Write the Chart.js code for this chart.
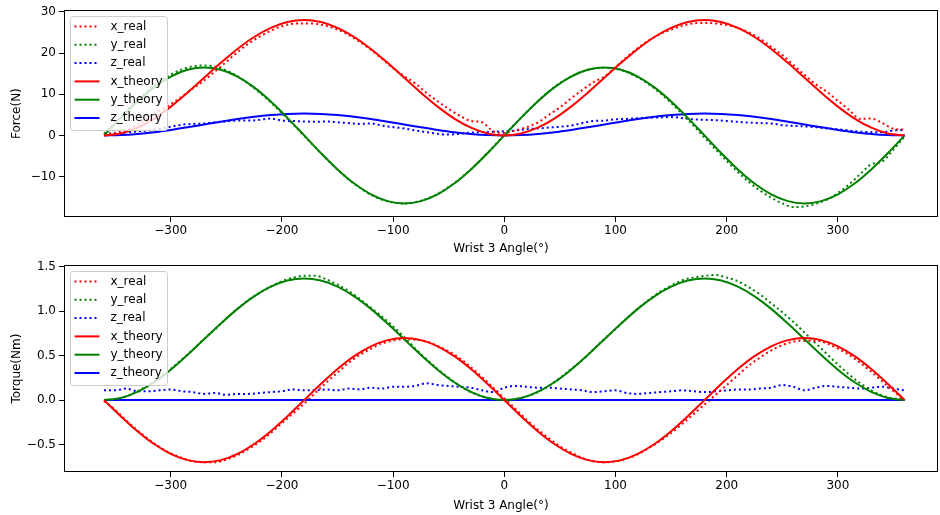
<!DOCTYPE html>
<html>
<head>
<meta charset="utf-8">
<script src="https://cdn.jsdelivr.net/npm/chart.js@4"></script>
<style>
  body { margin: 0; background: #fff; }
  #wrap { position: relative; width: 940px; height: 515px; }
  canvas { position: absolute; left: 0; }
  #force { top: 0; }
  #torque { top: 255px; }
</style>
</head>
<body>
<div id="wrap">
  <canvas id="force" width="940" height="258"></canvas>
  <canvas id="torque" width="940" height="260"></canvas>
</div>
<script>
// measured samples (every 10 deg)
const realAngles = [-360,-350,-340,-330,-320,-310,-300,-290,-280,-270,-260,-250,-240,-230,-220,-210,-200,-190,-180,-170,-160,-150,-140,-130,-120,-110,-100,-90,-80,-70,-60,-50,-40,-30,-20,-10,0,10,20,30,40,50,60,70,80,90,100,110,120,130,140,150,160,170,180,190,200,210,220,230,240,250,260,270,280,290,300,310,320,330,340,350,360];

const forceXReal = [0.3,0.6,1.3,2.6,4.3,6.0,7.6,9.4,11.4,13.3,15.6,17.9,20.2,22.3,24.0,25.4,26.5,27.1,27.2,27.1,26.6,25.7,24.4,22.7,20.8,18.6,16.3,14.4,12.6,10.3,8.3,6.4,4.8,3.5,3.2,1.0,0.6,1.2,2.0,3.1,5.0,6.8,9.0,11.0,12.9,14.3,16.6,19.0,21.2,23.1,24.6,25.7,26.6,27.2,27.3,27.2,26.8,26.1,25.0,23.5,21.5,19.5,17.1,14.7,12.4,10.6,8.4,6.2,4.0,4.1,3.0,1.6,1.4];
const forceYReal = [0.4,3.2,6.0,8.6,11.0,13.1,14.8,16.0,16.8,17.0,16.7,15.8,14.4,12.5,10.4,8.0,5.4,2.7,-0.1,-2.9,-5.7,-8.3,-10.7,-12.7,-14.4,-15.6,-16.3,-16.5,-16.2,-15.4,-14.2,-12.5,-10.5,-8.2,-5.6,-2.8,0.1,2.9,5.7,8.3,10.7,12.7,14.3,15.5,16.2,16.4,16.2,15.4,14.1,12.4,10.3,7.9,5.2,2.4,-0.5,-3.4,-6.2,-8.9,-11.3,-13.4,-15.1,-16.5,-17.4,-17.2,-16.6,-15.6,-14.0,-11.9,-9.4,-7.0,-6.3,-3.4,-0.3];
const forceZReal = [0.4,0.5,0.7,1.0,1.2,1.6,2.1,2.6,2.8,2.9,3.2,3.4,3.6,3.6,3.8,4.1,3.6,3.5,3.4,3.3,3.4,3.2,3.0,2.8,2.9,2.4,2.0,1.7,1.2,0.8,0.4,0.2,0.4,0.7,0.8,0.9,1.0,1.2,1.5,1.7,1.9,2.1,2.4,3.0,3.5,3.6,3.9,4.0,4.2,4.3,4.4,4.5,4.2,3.9,3.8,3.7,3.5,3.3,3.1,3.0,2.9,2.5,2.3,2.2,2.0,1.7,1.5,1.2,0.9,0.8,0.8,1.2,1.4];

const torqueXReal = [-0.01,-0.11,-0.23,-0.34,-0.44,-0.53,-0.60,-0.65,-0.69,-0.70,-0.70,-0.67,-0.62,-0.55,-0.47,-0.37,-0.26,-0.15,-0.04,0.08,0.20,0.31,0.42,0.51,0.58,0.64,0.67,0.69,0.68,0.66,0.61,0.55,0.47,0.37,0.26,0.14,0.02,-0.10,-0.22,-0.33,-0.43,-0.52,-0.59,-0.65,-0.69,-0.70,-0.69,-0.66,-0.61,-0.54,-0.46,-0.37,-0.27,-0.16,-0.05,0.06,0.17,0.28,0.39,0.48,0.56,0.62,0.66,0.67,0.67,0.64,0.58,0.51,0.42,0.32,0.21,0.10,0.00];
const torqueYReal = [0.00,0.01,0.04,0.10,0.17,0.25,0.35,0.46,0.57,0.69,0.80,0.92,1.03,1.13,1.21,1.28,1.34,1.38,1.40,1.40,1.36,1.30,1.23,1.14,1.04,0.94,0.83,0.71,0.58,0.46,0.35,0.25,0.16,0.09,0.04,0.01,0.00,0.01,0.04,0.09,0.16,0.25,0.35,0.45,0.57,0.69,0.80,0.92,1.03,1.13,1.22,1.29,1.35,1.38,1.40,1.41,1.38,1.34,1.27,1.19,1.09,0.99,0.88,0.76,0.64,0.52,0.40,0.29,0.19,0.11,0.05,0.02,0.01];
const torqueZReal = [0.11,0.11,0.13,0.10,0.10,0.11,0.12,0.10,0.09,0.07,0.08,0.06,0.07,0.07,0.08,0.09,0.10,0.12,0.11,0.11,0.12,0.11,0.13,0.12,0.14,0.13,0.15,0.15,0.16,0.19,0.17,0.16,0.15,0.14,0.11,0.09,0.14,0.16,0.15,0.14,0.14,0.13,0.12,0.11,0.09,0.10,0.11,0.08,0.07,0.08,0.09,0.10,0.11,0.10,0.09,0.10,0.11,0.12,0.12,0.13,0.14,0.17,0.15,0.11,0.14,0.16,0.15,0.14,0.13,0.14,0.15,0.13,0.11];

// theory curves (every 15 deg)
const theoryAngles = [-360,-345,-330,-315,-300,-285,-270,-255,-240,-225,-210,-195,-180,-165,-150,-135,-120,-105,-90,-75,-60,-45,-30,-15,0,15,30,45,60,75,90,105,120,135,150,165,180,195,210,225,240,255,270,285,300,315,330,345,360];

const forceXTheory = [0,0.48,1.88,4.10,7.0,10.38,14.0,17.62,21.0,23.9,26.12,27.52,28.0,27.52,26.12,23.9,21.0,17.62,14.0,10.38,7.0,4.10,1.88,0.48,0,0.48,1.88,4.10,7.0,10.38,14.0,17.62,21.0,23.9,26.12,27.52,28.0,27.52,26.12,23.9,21.0,17.62,14.0,10.38,7.0,4.10,1.88,0.48,0];
const forceYTheory = [0,4.27,8.25,11.67,14.29,15.94,16.5,15.94,14.29,11.67,8.25,4.27,0,-4.27,-8.25,-11.67,-14.29,-15.94,-16.5,-15.94,-14.29,-11.67,-8.25,-4.27,0,4.27,8.25,11.67,14.29,15.94,16.5,15.94,14.29,11.67,8.25,4.27,0,-4.27,-8.25,-11.67,-14.29,-15.94,-16.5,-15.94,-14.29,-11.67,-8.25,-4.27,0];
const forceZTheory = [0,0.09,0.35,0.77,1.33,1.97,2.65,3.33,3.97,4.52,4.94,5.21,5.3,5.21,4.94,4.52,3.97,3.33,2.65,1.97,1.33,0.77,0.35,0.09,0,0.09,0.35,0.77,1.33,1.97,2.65,3.33,3.97,4.52,4.94,5.21,5.3,5.21,4.94,4.52,3.97,3.33,2.65,1.97,1.33,0.77,0.35,0.09,0];

const torqueXTheory = [0,-0.181,-0.35,-0.495,-0.606,-0.676,-0.7,-0.676,-0.606,-0.495,-0.35,-0.181,0,0.181,0.35,0.495,0.606,0.676,0.7,0.676,0.606,0.495,0.35,0.181,0,-0.181,-0.35,-0.495,-0.606,-0.676,-0.7,-0.676,-0.606,-0.495,-0.35,-0.181,0,0.181,0.35,0.495,0.606,0.676,0.7,0.676,0.606,0.495,0.35,0.181,0];
const torqueYTheory = [0,0.023,0.092,0.201,0.343,0.508,0.685,0.862,1.028,1.169,1.278,1.347,1.37,1.347,1.278,1.169,1.028,0.862,0.685,0.508,0.343,0.201,0.092,0.023,0,0.023,0.092,0.201,0.343,0.508,0.685,0.862,1.028,1.169,1.278,1.347,1.37,1.347,1.278,1.169,1.028,0.862,0.685,0.508,0.343,0.201,0.092,0.023,0];
const torqueZTheory = [0,0,0,0,0,0,0,0,0,0,0,0,0,0,0,0,0,0,0,0,0,0,0,0,0,0,0,0,0,0,0,0,0,0,0,0,0,0,0,0,0,0,0,0,0,0,0,0,0];

const angleTicks = [-300,-200,-100,0,100,200,300];
const forceTicks = [-10,0,10,20,30];
const torqueTicks = [-0.5,0,0.5,1.0,1.5];

const FONT = 'DejaVu Sans';
const minus = s => String(s).replace('-', '\u2212');

const pts = (xs, ys) => xs.map((a, i) => ({x: a, y: ys[i]}));

// frame around the plot area, like matplotlib spines
const framePlugin = {
  id: 'frame',
  afterDatasetsDraw(chart) {
    const a = chart.chartArea, ctx = chart.ctx;
    ctx.save();
    ctx.strokeStyle = '#000';
    ctx.lineWidth = 1;
    ctx.strokeRect(Math.round(a.left) + 0.5, Math.round(a.top) + 0.5,
                   Math.round(a.right - a.left) - 1, Math.round(a.bottom - a.top) - 1);
    ctx.restore();
  }
};

// legend in the upper left corner of the plot
const boxLegend = {
  id: 'boxLegend',
  afterDraw(chart) {
    const a = chart.chartArea, ctx = chart.ctx;
    const x0 = Math.round(a.left) + 6.5, y0 = Math.round(a.top) + 6.5;
    const w = 97, h = 114, row = 18.3;
    ctx.save();
    ctx.fillStyle = 'rgba(255,255,255,0.8)';
    ctx.strokeStyle = '#cccccc';
    ctx.lineWidth = 1;
    ctx.beginPath();
    if (ctx.roundRect) ctx.roundRect(x0, y0, w, h, 3); else ctx.rect(x0, y0, w, h);
    ctx.fill();
    ctx.stroke();
    chart.data.datasets.forEach((ds, i) => {
      const y = y0 + 10 + i * row;
      ctx.strokeStyle = ds.borderColor;
      ctx.lineWidth = ds.borderWidth;
      ctx.setLineDash(ds.borderDash || []);
      ctx.beginPath();
      ctx.moveTo(x0 + 4, y);
      ctx.lineTo(x0 + 29, y);
      ctx.stroke();
      ctx.setLineDash([]);
      ctx.fillStyle = '#000';
      ctx.font = '12px "' + FONT + '"';
      ctx.textBaseline = 'middle';
      ctx.fillText(ds.label, x0 + 40, y);
    });
    ctx.restore();
  }
};

function series(label, color, data, dotted) {
  return {
    label: label,
    data: data,
    borderColor: color,
    borderWidth: 2,
    borderDash: dotted ? [2, 3] : [],
    borderCapStyle: 'butt',
    pointRadius: 0,
    fill: false,
    cubicInterpolationMode: 'monotone',
    order: dotted ? 1 : 0
  };
}

function makeChart(id, real, theory, yMin, yMax, yTicks, yTitle, yFmt, xHeight) {
  new Chart(document.getElementById(id), {
    type: 'line',
    data: {
      datasets: [
        series('x_real', '#ff0000', pts(realAngles, real[0]), true),
        series('y_real', '#008000', pts(realAngles, real[1]), true),
        series('z_real', '#0000ff', pts(realAngles, real[2]), true),
        series('x_theory', '#ff0000', pts(theoryAngles, theory[0]), false),
        series('y_theory', '#008000', pts(theoryAngles, theory[1]), false),
        series('z_theory', '#0000ff', pts(theoryAngles, theory[2]), false)
      ]
    },
    options: {
      responsive: false,
      animation: false,
      devicePixelRatio: 1,
      layout: { padding: { top: 4, right: 2, left: 0, bottom: 0 } },
      plugins: { legend: { display: false }, tooltip: { enabled: false } },
      scales: {
        x: {
          type: 'linear', min: -396, max: 390,
          afterBuildTicks: s => { s.ticks = angleTicks.map(v => ({ value: v })); },
          afterFit: s => { s.height = xHeight; },
          grid: { drawOnChartArea: false, drawTicks: true, tickLength: 5, color: '#000', lineWidth: 1 },
          border: { display: false },
          ticks: { color: '#000', font: { family: FONT, size: 12 }, padding: 2, maxRotation: 0, autoSkip: false,
                   callback: v => minus(v) },
          title: { display: true, text: 'Wrist 3 Angle(°)', color: '#000', font: { family: FONT, size: 12 },
                   padding: { top: 0, bottom: 2 } }
        },
        y: {
          type: 'linear', min: yMin, max: yMax,
          afterBuildTicks: s => { s.ticks = yTicks.map(v => ({ value: v })); },
          afterFit: s => { s.width = 64; },
          grid: { drawOnChartArea: false, drawTicks: true, tickLength: 5, color: '#000', lineWidth: 1 },
          border: { display: false },
          ticks: { color: '#000', font: { family: FONT, size: 12 }, padding: 3, autoSkip: false,
                   callback: v => minus(yFmt(v)) },
          title: { display: true, text: yTitle, color: '#000', font: { family: FONT, size: 12 },
                   padding: { top: 10, bottom: 0 } }
        }
      }
    },
    plugins: [framePlugin, boxLegend]
  });
}

makeChart('force', [forceXReal, forceYReal, forceZReal], [forceXTheory, forceYTheory, forceZTheory],
  -19.8, 30.4, forceTicks, 'Force(N)', v => String(v), 41);
makeChart('torque', [torqueXReal, torqueYReal, torqueZReal], [torqueXTheory, torqueYTheory, torqueZTheory],
  -0.81, 1.52, torqueTicks, 'Torque(Nm)', v => v.toFixed(1), 43);
</script>
</body>
</html>
